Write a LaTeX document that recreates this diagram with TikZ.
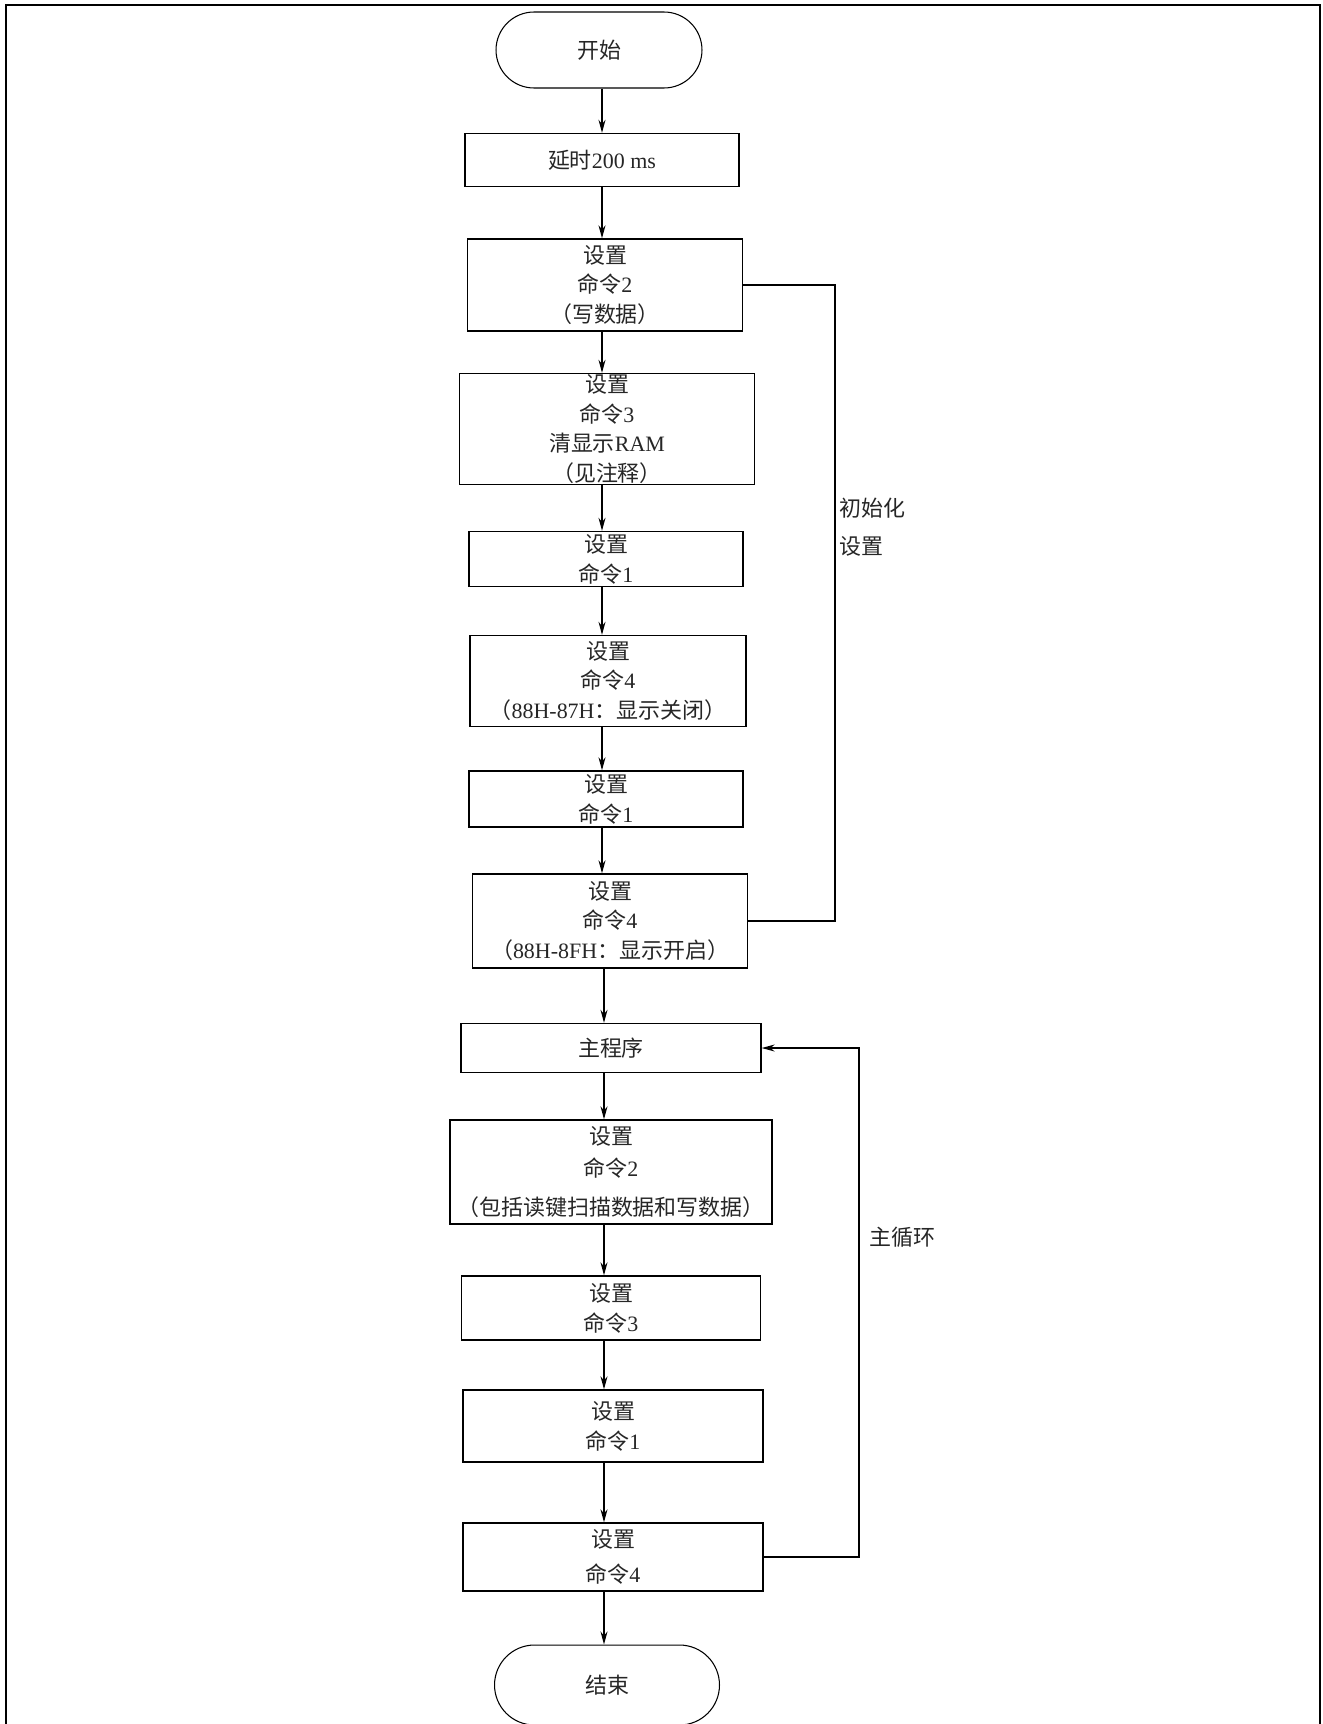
\documentclass[tikz,border=0pt]{standalone}
\usepackage{fontspec}
\setmainfont{Liberation Serif}
\newfontfamily\cjk{Noto Sans CJK SC}
\newcommand\lat[1]{{\rmfamily #1}}
\usetikzlibrary{arrows.meta}
\tikzset{
    startstop/.style = {rectangle, rounded corners=0.76cm, minimum width=4.12cm, minimum height=1.52cm, text centered, draw=black, line width=0.6pt, text=black!85, font=\cjk\fontsize{12.5pt}{17pt}\selectfont},
    process/.style = {rectangle, inner sep=0pt, align=center, draw=black, line width=0.8pt, text=black!85, font=\cjk\fontsize{12.5pt}{17pt}\selectfont},
    tag/.style = {anchor=west, align=left, inner sep=0pt, text=black!85, font=\cjk\fontsize{12.5pt}{17pt}\selectfont},
    wire/.style = {line width=0.8pt},
    arrow/.style = {line width=0.8pt, ->, >={Stealth[length=2.6mm, width=1.4mm]}}
}

\begin{document}
\begin{tikzpicture}[x=0.02cm, y=-0.02cm]
	\useasboundingbox (0,0) rectangle (1322,1724);
	\draw[line width=1pt] (6,1724) -- (6,5) -- (1320,5) -- (1320,1724);

	% init part
	\node[startstop] (start) at (599,50) {开始};
	\node[process, minimum width=5.48cm, minimum height=1.06cm] (delay) at (602,160) {延时\lat{200 ms}};
	\node[process, minimum width=5.5cm, minimum height=1.84cm] (set2) at (605,285) {设置\\命令\lat{2}\\（写数据）};
	\node[process, minimum width=5.9cm, minimum height=2.22cm] (set3) at (607,429) {设置\\命令\lat{3}\\清显示\lat{RAM}\\（见注释）};
	\node[process, minimum width=5.48cm, minimum height=1.1cm] (set1a) at (606,559) {设置\\命令\lat{1}};
	\node[process, minimum width=5.52cm, minimum height=1.82cm] (set4a) at (608,681) {设置\\命令\lat{4}\\（\lat{88H-87H}：显示关闭）};
	\node[process, minimum width=5.48cm, minimum height=1.12cm] (set1b) at (606,799) {设置\\命令\lat{1}};
	\node[process, minimum width=5.5cm, minimum height=1.88cm] (set4b) at (610,921) {设置\\命令\lat{4}\\（\lat{88H-8FH}：显示开启）};

	% main loop
	\node[process, minimum width=6cm, minimum height=0.98cm] (main) at (611,1048) {主程序};
	\node[process, minimum width=6.44cm, minimum height=2.08cm] (mset2) at (611,1172) {设置\\[1pt]命令\lat{2}\\[5pt]（包括读键扫描数据和写数据）};
	\node[process, minimum width=5.98cm, minimum height=1.28cm] (mset3) at (611,1308) {设置\\命令\lat{3}};
	\node[process, minimum width=6cm, minimum height=1.44cm] (mset1) at (613,1426) {设置\\命令\lat{1}};
	\node[process, minimum width=6cm, minimum height=1.36cm] (mset4) at (613,1557) {设置\\[3pt]命令\lat{4}};
	\node[startstop, minimum width=4.5cm, minimum height=1.6cm, rounded corners=0.8cm] (stop) at (607,1685) {结束};

	\node[tag] (initlbl) at (839,527) {初始化\\[5pt]设置};
	\node[tag] (looplbl) at (869,1237) {主循环};

	% vertical flow, all on one line
	\coordinate (spine) at (602,0);
	\coordinate (mspine) at (604,0);
	\draw[arrow] (start.south -| spine) -- (delay.north -| spine);
	\draw[arrow] (delay.south -| spine) -- (set2.north -| spine);
	\draw[arrow] (set2.south -| spine) -- (set3.north -| spine);
	\draw[arrow] (set3.south -| spine) -- (set1a.north -| spine);
	\draw[arrow] (set1a.south -| spine) -- (set4a.north -| spine);
	\draw[arrow] (set4a.south -| spine) -- (set1b.north -| spine);
	\draw[arrow] (set1b.south -| spine) -- (set4b.north -| spine);
	\draw[arrow] (set4b.south -| mspine) -- (main.north -| mspine);
	\draw[arrow] (main.south -| mspine) -- (mset2.north -| mspine);
	\draw[arrow] (mset2.south -| mspine) -- (mset3.north -| mspine);
	\draw[arrow] (mset3.south -| mspine) -- (mset1.north -| mspine);
	\draw[arrow] (mset1.south -| mspine) -- (mset4.north -| mspine);
	\draw[arrow] (mset4.south -| mspine) -- (stop.north -| mspine);

	\coordinate (initx) at (835,600);
	\coordinate (loopx) at (859,1300);
	\draw[wire] (set2.east) -| (initx) |- (set4b.east);
	\draw[arrow] (mset4.east) -| (loopx) |- (main.east);
\end{tikzpicture}
\end{document}
